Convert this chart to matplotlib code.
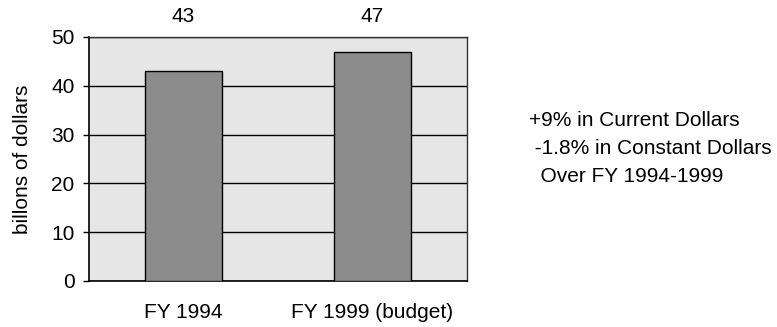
import matplotlib.pyplot as plt

plt.rcParams['font.family'] = ['Liberation Sans', 'DejaVu Sans']

categories = ['FY 1994', 'FY 1999 (budget)']
values = [43, 47]
notes = ['+9% in Current Dollars', ' -1.8% in Constant Dollars', '  Over FY 1994-1999']

fs = 15

fig = plt.figure(figsize=(7.77, 3.27), dpi=100)
ax = fig.add_axes([89 / 777, 1 - 281 / 327, 378 / 777, 244 / 327])
ax.set_facecolor('#e6e6e6')

pos = range(len(categories))
ax.bar(pos, values, width=0.41, color='#8c8c8c', edgecolor='black', linewidth=1.0, zorder=3)

ax.set_xlim(-0.5, 1.5)
ax.set_ylim(0, 50)
ax.set_yticks([0, 10, 20, 30, 40, 50])
ax.yaxis.grid(True, color='black', linewidth=1.0, zorder=1)
ax.set_axisbelow(True)

ax.set_xticks(list(pos))
ax.set_xticklabels(categories, fontsize=fs)
ax.tick_params(axis='x', length=0, pad=15.5)
ax.tick_params(axis='y', labelsize=fs, length=4.5, width=1.0, pad=6)
ax.set_ylabel('billons of dollars', fontsize=fs, labelpad=14)

for side in ['left', 'bottom']:
    ax.spines[side].set_color('black')
    ax.spines[side].set_linewidth(1.2)
for side in ['top', 'right']:
    ax.spines[side].set_color('#333333')
    ax.spines[side].set_linewidth(1.0)

# value labels sit in a row above the plot area
for i, v in enumerate(values):
    ax.annotate(str(v), xy=(i, 1.0), xycoords=('data', 'axes fraction'),
                xytext=(0, 14.5), textcoords='offset points',
                ha='center', va='center', fontsize=fs)

for k, line in enumerate(notes):
    fig.text(529 / 777, 1 - (120 + 28.5 * k) / 327, line,
             ha='left', va='center', fontsize=fs)

fig.savefig('out.png', dpi=100)
